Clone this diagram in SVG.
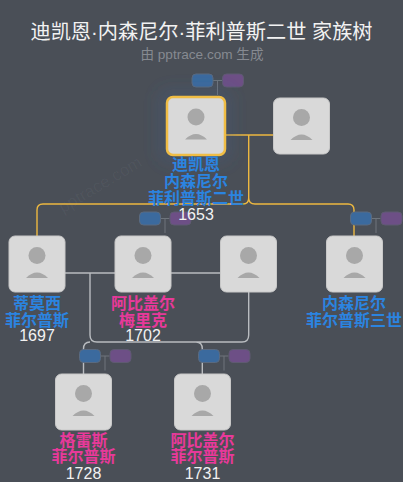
<svg xmlns="http://www.w3.org/2000/svg" width="403" height="482" viewBox="0 0 403 482">
<style>
text{font-family:"Liberation Sans","Noto Sans CJK SC",sans-serif;text-anchor:middle}
.card{fill:#d9d9d9;stroke:#c8c8c8;stroke-width:1}
.head{fill:#a8a8a8}
.b{fill:#3b6a9e;stroke:#5a6a80;stroke-width:1}
.p{fill:#6d4f86;stroke:#5f5a72;stroke-width:1}
.chip{fill:none;stroke:#6e747c;stroke-width:1}
.gold{fill:none;stroke:#edb840;stroke-width:1.4}
.white{fill:none;stroke:#b9bcc0;stroke-width:1.4}
.m{fill:#2b84e0;font-size:16px;font-weight:700}
.f{fill:#e8399a;font-size:16px;font-weight:700}
.y{fill:#f2f2f2;font-size:16px}
</style>
<defs>
<filter id="glow" x="-50%" y="-50%" width="200%" height="200%"><feGaussianBlur stdDeviation="8"/></filter>
<g id="avatar">
<rect class="card" x="0.5" y="0.5" width="56" height="56" rx="6"/>
<circle class="head" cx="28.500" cy="20" r="8.500"/>
<path class="head" d="M17.500 42.500Q28.500 31.500 39.500 42.500Z"/>
</g>
<g id="chips">
<path class="chip" d="M21 6.500H30M25.500 6.500V21"/>
<rect class="b" x="0" y="0" width="21" height="13" rx="4"/>
<rect class="p" x="30.500" y="0" width="21" height="13" rx="4"/>
</g>
</defs>
<rect width="403" height="482" fill="#4a4f57"/>
<text x="101" y="190" fill="#ffffff" fill-opacity="0.04" font-size="17" transform="rotate(-31 101 186)">pptrace.com</text>
<text x="201.500" y="39" fill="#f2f2f2" font-size="20.200">迪凯恩·内森尼尔·菲利普斯二世 家族树</text>
<text x="202" y="59" fill="#868a91" font-size="13.600">由 pptrace.com 生成</text>
<g id="connectors">
<path class="gold" d="M225 135H273M248.700 135V198Q248.700 204 243 204H43Q37 204 37 210V236M248.700 198Q248.700 204 255 204H348Q354 204 354 210V236"/>
<path class="white" d="M65 273H115M171 273H221M90 273V335Q90 342 97 342H242Q248.700 342 248.700 335V292M90 342Q83.500 342 83.500 349V374M196 342Q202.300 342 202.300 349V374"/>
</g>
<g id="chips-1"><use href="#chips" x="192" y="74"/></g>
<g id="chips-2"><use href="#chips" x="139.500" y="212"/></g>
<g id="chips-3"><use href="#chips" x="350.500" y="212"/></g>
<g id="chips-4"><use href="#chips" x="79.500" y="349.500"/></g>
<g id="chips-5"><use href="#chips" x="198.500" y="349.500"/></g>
<g id="node-1">
<rect x="158" y="89" width="74" height="74" rx="10" fill="#3f5f8c" fill-opacity="0.25" filter="url(#glow)"/>
<rect x="167" y="97" width="58" height="58" rx="6" fill="#d9d9d9" stroke="#f0bd45" stroke-width="2.500"/>
<circle class="head" cx="196" cy="117" r="8.500"/><path class="head" d="M185 139.500Q196 128.500 207 139.500Z"/>
<text class="m" x="196" y="170">迪凯恩</text><text class="m" x="196" y="187">内森尼尔</text><text class="m" x="196" y="203.500">菲利普斯二世</text><text class="y" x="196" y="220">1653</text>
</g>
<g id="node-2"><use href="#avatar" x="273" y="97.500"/></g>
<g id="node-3"><use href="#avatar" x="8.500" y="235.500"/>
<text class="m" x="37" y="309">蒂莫西</text><text class="m" x="37" y="325.500">菲尔普斯</text><text class="y" x="37" y="341">1697</text></g>
<g id="node-4"><use href="#avatar" x="114.500" y="235.500"/>
<text class="f" x="143" y="309">阿比盖尔</text><text class="f" x="143" y="325.500">梅里克</text><text class="y" x="143" y="341">1702</text></g>
<g id="node-5"><use href="#avatar" x="220" y="235.500"/></g>
<g id="node-6"><use href="#avatar" x="326" y="235.500"/>
<text class="m" x="354" y="309">内森尼尔</text><text class="m" x="354" y="325.500">菲尔普斯三世</text></g>
<g id="node-7"><use href="#avatar" x="55" y="373.500"/>
<text class="f" x="83.500" y="445.500">格雷斯</text><text class="f" x="83.500" y="462">菲尔普斯</text><text class="y" x="83.500" y="479">1728</text></g>
<g id="node-8"><use href="#avatar" x="174" y="373.500"/>
<text class="f" x="202.500" y="445.500">阿比盖尔</text><text class="f" x="202.500" y="462">菲尔普斯</text><text class="y" x="202.500" y="479">1731</text></g>
</svg>
